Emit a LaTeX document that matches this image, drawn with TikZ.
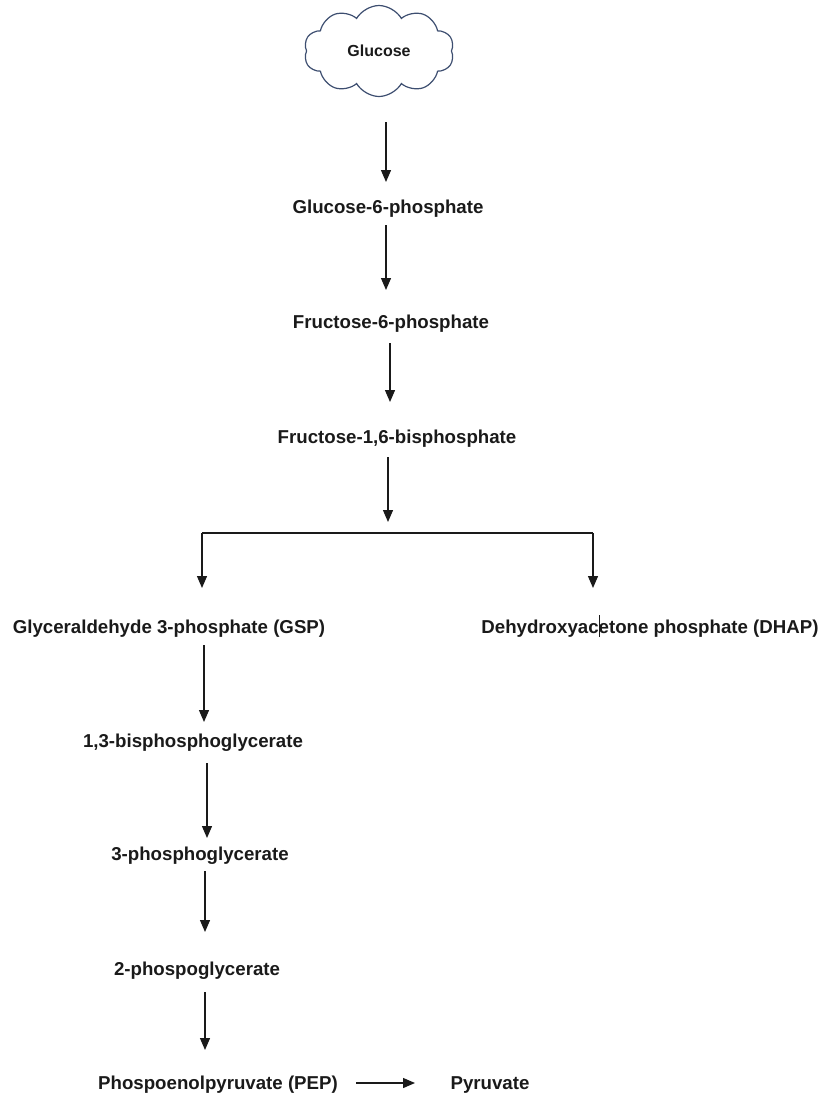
\documentclass[tikz,border=0pt]{standalone}
\usepackage{fontspec}
\setmainfont{Liberation Sans}
\usetikzlibrary{shapes.symbols,arrows.meta,calc}
\definecolor{cloudline}{HTML}{3D4E70}
\definecolor{ink}{HTML}{1A1A1A}
\tikzset{
  lbl/.style={inner sep=0pt, text height=13.4pt, text depth=0pt, font=\fontsize{18.67}{20}\selectfont\bfseries, text=ink, anchor=center},
  arr/.style={draw=ink, line width=1.3pt, -{Triangle[width=10pt,length=12pt]}},
  plain/.style={draw=ink, line width=1.3pt},
}
\begin{document}
\begin{tikzpicture}[x=1pt,y=-1pt]
\useasboundingbox (0,0) rectangle (821,1093);
\node[cloud, cloud puffs=10, cloud puff arc=120, aspect=1.65, draw=cloudline, line width=1.2pt,
  minimum width=150pt, minimum height=91pt, inner sep=0pt,
  font=\fontsize{16}{18}\selectfont\bfseries, text=ink] (glc) at (379,51) {Glucose};
\node[lbl] (g6p) at (388,207) {Glucose-6-phosphate};
\node[lbl] (f6p) at (391,322) {Fructose-6-phosphate};
\node[lbl] (f16) at (397,437) {Fructose-1,6-bisphosphate};
\node[lbl] (gsp) at (169,627) {Glyceraldehyde 3-phosphate (GSP)};
\node[lbl] (dhap) at (650,627) {Dehydroxyacetone phosphate (DHAP)};
\node[lbl] (bpg) at (193,741) {1,3-bisphosphoglycerate};
\node[lbl] (pg3) at (200,854) {3-phosphoglycerate};
\node[lbl] (pg2) at (197,969) {2-phospoglycerate};
\node[lbl] (pep) at (218,1083) {Phospoenolpyruvate (PEP)};
\node[lbl] (pyr) at (490,1083) {Pyruvate};
\coordinate (bl) at (202,533);
\coordinate (br) at (593,533);
\coordinate (bm) at (388,533);
% cursor mark
\draw[ink, line width=0.8pt] ($(dhap.center)+(-51,-12)$) -- ($(dhap.center)+(-51,10)$);
% arrows
\draw[arr] ($(glc.center)+(7,71)$) -- ($(g6p.center)+(-2,-25)$);
\draw[arr] ($(g6p.center)+(-2,18)$) -- ($(f6p.center)+(-5,-32)$);
\draw[arr] ($(f6p.center)+(-1,21)$) -- ($(f16.center)+(-7,-35)$);
\draw[arr] ($(f16.center)+(-9,20)$) -- ($(bm)+(0,-11)$);
\draw[plain] (bl) -- (br);
\draw[arr] (bl) -- ($(bl |- gsp.center)+(0,-39)$);
\draw[arr] (br) -- ($(br |- dhap.center)+(0,-39)$);
\draw[arr] ($(gsp.center)+(35,18)$) -- ($(bpg.center)+(11,-19)$);
\draw[arr] ($(bpg.center)+(14,22)$) -- ($(pg3.center)+(7,-16)$);
\draw[arr] ($(pg3.center)+(5,17)$) -- ($(pg2.center)+(8,-37)$);
\draw[arr] ($(pg2.center)+(8,23)$) -- ($(pep.center)+(-13,-33)$);
\draw[arr] ($(pep.center)+(138,0)$) -- ($(pyr.center)+(-75,0)$);
\end{tikzpicture}
\end{document}
